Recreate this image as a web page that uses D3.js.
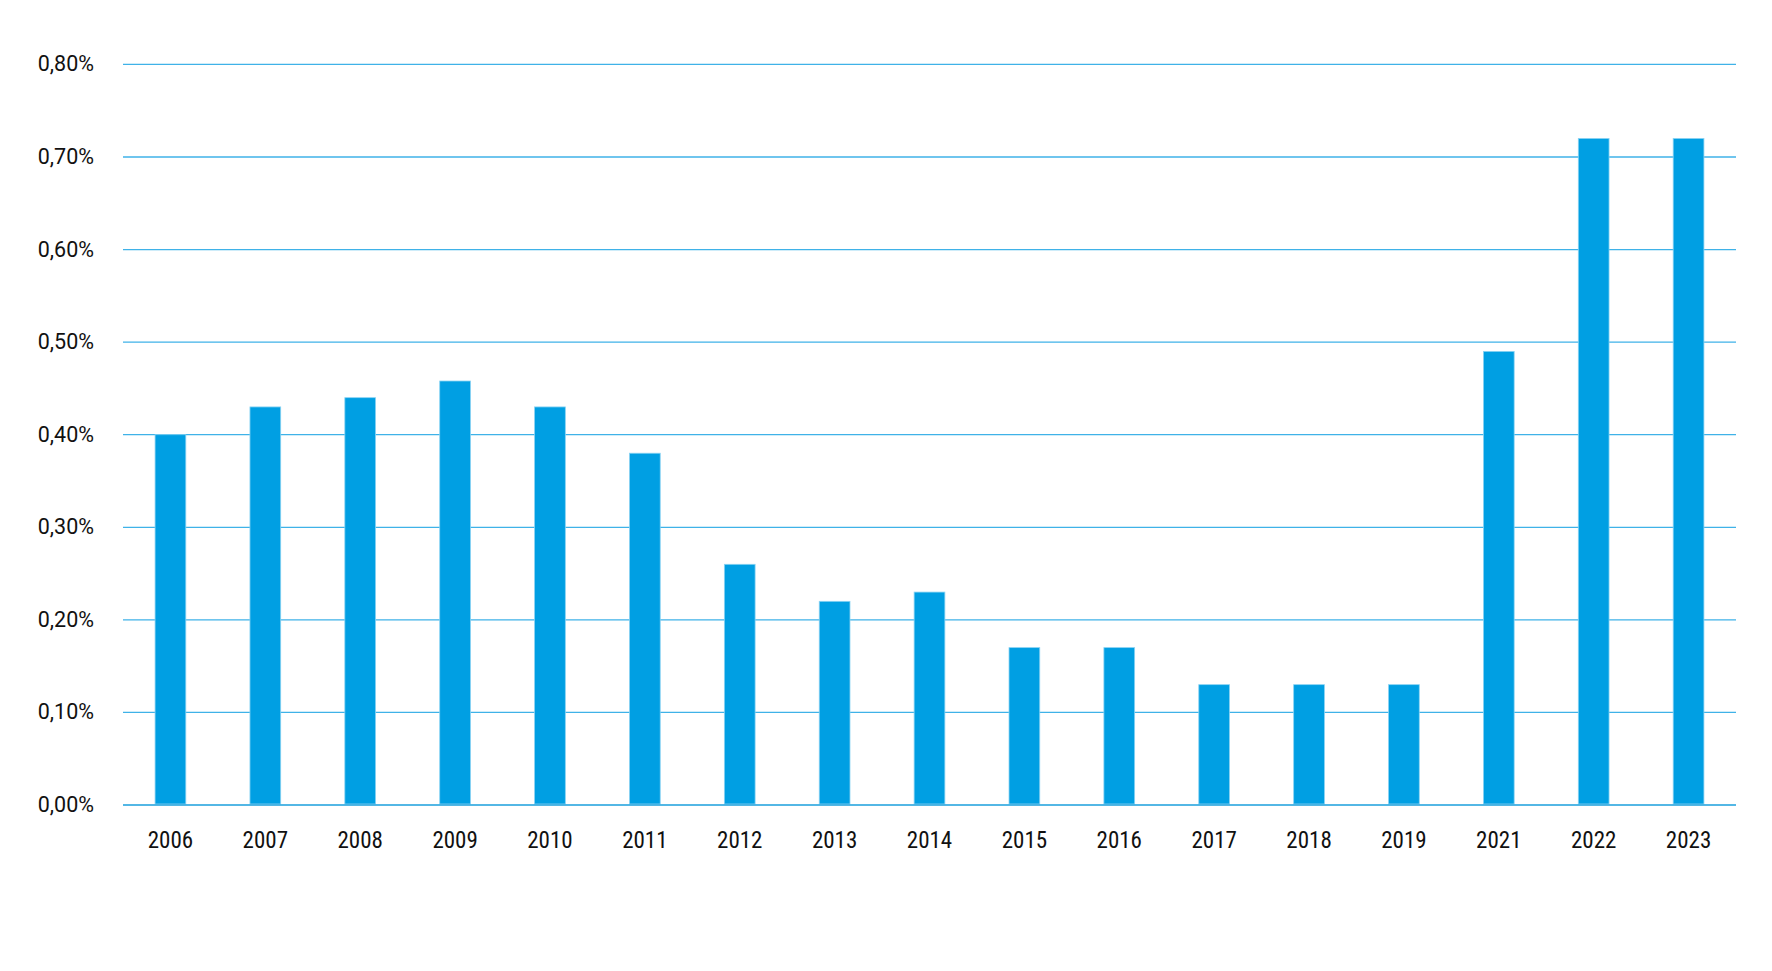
<!DOCTYPE html>
<html>
<head>
<meta charset="utf-8">
<script src="https://cdn.jsdelivr.net/npm/d3@7"></script>
<style>
  html, body { margin: 0; padding: 0; background: #ffffff; }
  svg { display: block; }
</style>
</head>
<body>
<svg id="chart" width="1772" height="971"></svg>
<script>
const categories = ["2006","2007","2008","2009","2010","2011","2012","2013","2014","2015","2016","2017","2018","2019","2021","2022","2023"];
const values = [0.0040,0.0043,0.0044,0.00458,0.0043,0.0038,0.0026,0.0022,0.0023,0.0017,0.0017,0.0013,0.0013,0.0013,0.0049,0.0072,0.0072];
const yTicks = [0,0.001,0.002,0.003,0.004,0.005,0.006,0.007,0.008];

(function () {
const svg = d3.select("#chart");
const plotLeft = 123, plotRight = 1736, plotTop = 64.4, plotBottom = 805;

const x = d3.scaleBand().domain(categories).range([plotLeft, plotRight]).paddingInner(0.676).paddingOuter(0.338);
const y = d3.scaleLinear().domain([0, 0.008]).range([plotBottom, plotTop]);

const locale = d3.formatLocale({decimal: ",", thousands: ".", grouping: [3], currency: ["", "€"]});
const fmt = locale.format(".2%");

// gridlines
svg.append("g")
  .selectAll("line")
  .data(yTicks.filter(d => d > 0))
  .join("line")
  .attr("x1", plotLeft).attr("x2", plotRight)
  .attr("y1", d => y(d)).attr("y2", d => y(d))
  .attr("stroke", "#3fb2e8")
  .attr("stroke-width", 1.3);

// bars
svg.append("g")
  .selectAll("rect")
  .data(categories)
  .join("rect")
  .attr("x", d => x(d))
  .attr("width", x.bandwidth())
  .attr("y", (d, i) => y(values[i]))
  .attr("height", (d, i) => y(0) - y(values[i]) - 1)
  .attr("fill", "#009fe3")
  .attr("stroke", "#8ad3f3")
  .attr("stroke-width", 0.8);

// y axis labels
const yAxis = d3.axisLeft(y).tickValues(yTicks).tickFormat(fmt).tickSize(0).tickPadding(0);
const gy = svg.append("g").attr("transform", "translate(94,0)").call(yAxis);
gy.select(".domain").remove();
gy.selectAll("text")
  .attr("x", 0)
  .attr("dy", "0.3em")
  .attr("fill", "#111111")
  .style("font-family", "Roboto, 'Noto Sans', sans-serif")
  .style("font-size", "21.5px");

// x axis
const xAxis = d3.axisBottom(x).tickSize(0).tickPadding(0);
const gx = svg.append("g").attr("transform", `translate(0,${plotBottom})`).call(xAxis);
gx.select(".domain")
  .attr("stroke", "#1a9fdc")
  .attr("stroke-width", 1.3)
  .attr("d", `M${plotLeft},0H${plotRight}`);
gx.selectAll("text")
  .attr("y", 43)
  .attr("dy", 0)
  .attr("fill", "#111111")
  .style("font-family", "'Roboto Condensed', Roboto, 'Noto Sans', sans-serif")
  .style("font-size", "23px");
})();
</script>
</body>
</html>
